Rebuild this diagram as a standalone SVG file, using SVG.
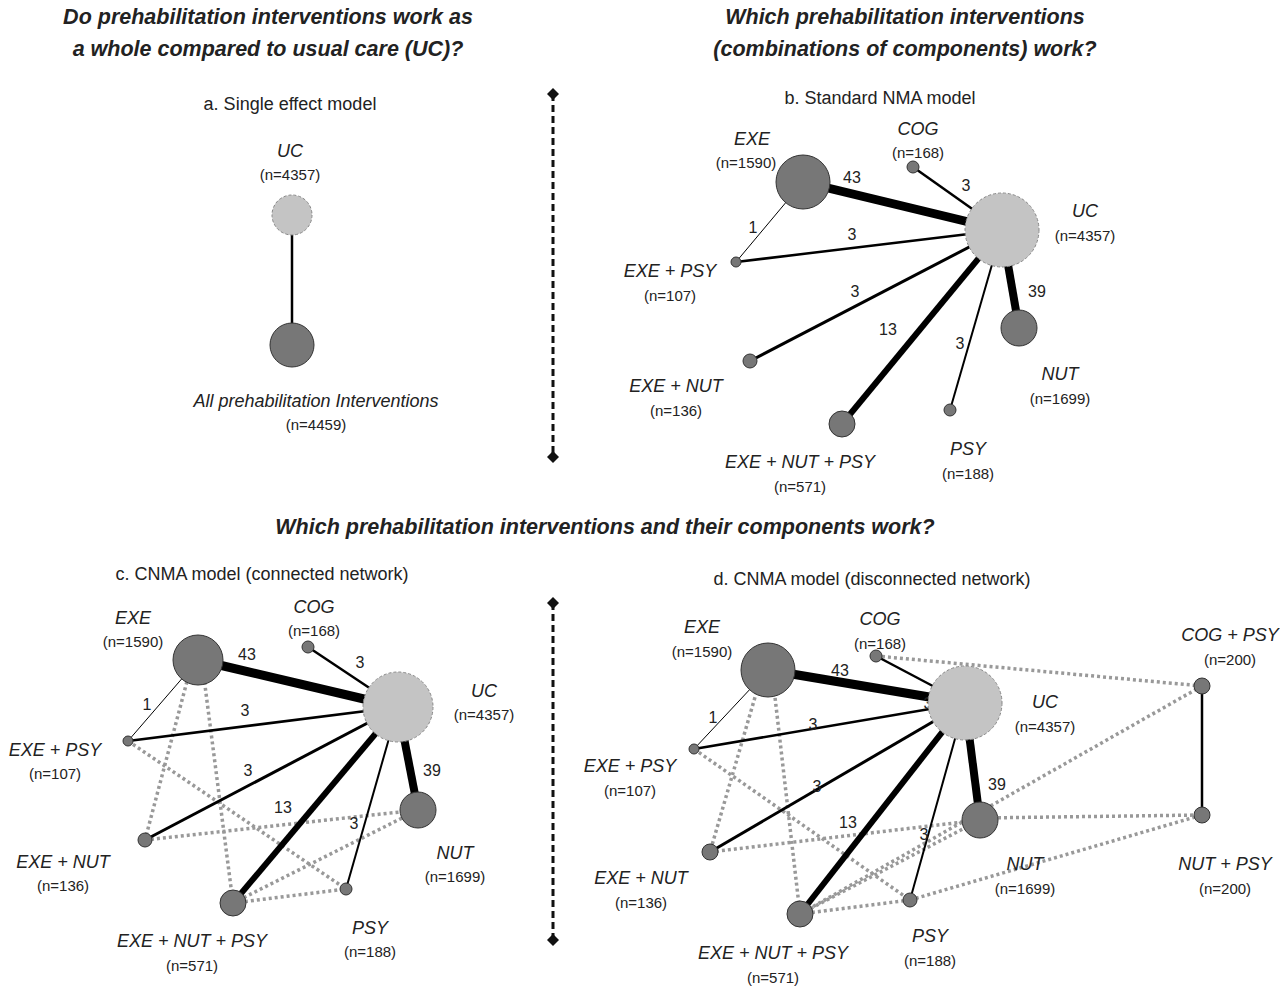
<svg xmlns="http://www.w3.org/2000/svg" width="1280" height="996" viewBox="0 0 1280 996">
<style>
text{font-family:"Liberation Sans",Arial,sans-serif;fill:#222;text-anchor:middle}
.t{font-size:21.5px;font-weight:bold;font-style:italic}
.s{font-size:18px}
.n{font-size:18px;font-style:italic}
.c{font-size:15px}
.e{font-size:16px}
.d{fill:#777;stroke:#333;stroke-width:1}
.u{fill:#c4c4c4;stroke:#888;stroke-width:1;stroke-dasharray:3 2}
.l{stroke:#000;fill:none}
.o{stroke:#999;stroke-width:3.5;stroke-dasharray:3 3;fill:none}
.v{stroke:#111;stroke-width:3;stroke-dasharray:7 4}
</style>
<defs><marker id="dm" viewBox="0 0 10 10" refX="5" refY="5" markerWidth="4" markerHeight="4" orient="auto"><path d="M5 0L10 5L5 10L0 5Z" fill="#111"/></marker></defs>
<rect width="1280" height="996" fill="#fff"/>
<text class="t" x="268" y="24">Do prehabilitation interventions work as</text>
<text class="t" x="268" y="56">a whole compared to usual care (UC)?</text>
<text class="t" x="905" y="24">Which prehabilitation interventions</text>
<text class="t" x="905" y="56">(combinations of components) work?</text>
<text class="t" x="605" y="534">Which prehabilitation interventions and their components work?</text>
<text class="s" x="290" y="110">a. Single effect model</text>
<text class="s" x="880" y="104">b. Standard NMA model</text>
<text class="s" x="262" y="580">c. CNMA model (connected network)</text>
<text class="s" x="872" y="585">d. CNMA model (disconnected network)</text>
<g id="connectors">
<line class="v" x1="553" y1="94" x2="553" y2="457" marker-start="url(#dm)" marker-end="url(#dm)"/>
<line class="v" x1="553" y1="603" x2="553" y2="940" marker-start="url(#dm)" marker-end="url(#dm)"/>
<line class="l" x1="292" y1="215" x2="292" y2="345" stroke-width="2.5"/>
<line class="l" x1="803" y1="182" x2="1002" y2="230" stroke-width="9"/>
<line class="l" x1="913" y1="167" x2="1002" y2="230" stroke-width="2.5"/>
<line class="l" x1="803" y1="182" x2="736" y2="262" stroke-width="1"/>
<line class="l" x1="736" y1="262" x2="1002" y2="230" stroke-width="2.5"/>
<line class="l" x1="750" y1="361" x2="1002" y2="230" stroke-width="3"/>
<line class="l" x1="842" y1="424" x2="1002" y2="230" stroke-width="6"/>
<line class="l" x1="950" y1="410" x2="1002" y2="230" stroke-width="2"/>
<line class="l" x1="1019" y1="328" x2="1002" y2="230" stroke-width="8"/>
<line class="o" x1="190" y1="670" x2="145" y2="840"/>
<line class="o" x1="203" y1="670" x2="233" y2="903"/>
<line class="o" x1="128" y1="741" x2="346" y2="889"/>
<line class="o" x1="145" y1="840" x2="418" y2="810"/>
<line class="o" x1="233" y1="903" x2="418" y2="810"/>
<line class="o" x1="233" y1="903" x2="346" y2="889"/>
<line class="l" x1="198" y1="660" x2="398" y2="707" stroke-width="9"/>
<line class="l" x1="308" y1="647" x2="398" y2="707" stroke-width="2.5"/>
<line class="l" x1="198" y1="660" x2="128" y2="741" stroke-width="1"/>
<line class="l" x1="128" y1="741" x2="398" y2="707" stroke-width="2.5"/>
<line class="l" x1="145" y1="840" x2="398" y2="707" stroke-width="3"/>
<line class="l" x1="233" y1="903" x2="398" y2="707" stroke-width="6"/>
<line class="l" x1="346" y1="889" x2="398" y2="707" stroke-width="2"/>
<line class="l" x1="418" y1="810" x2="398" y2="707" stroke-width="8"/>
<line class="o" x1="760" y1="680" x2="710" y2="852"/>
<line class="o" x1="773" y1="680" x2="800" y2="914"/>
<line class="o" x1="694" y1="749" x2="910" y2="900"/>
<line class="o" x1="710" y1="852" x2="980" y2="820"/>
<line class="o" x1="800" y1="914" x2="980" y2="820"/>
<line class="o" x1="800" y1="914" x2="910" y2="900"/>
<line class="o" x1="876" y1="656" x2="1202" y2="686"/>
<line class="o" x1="1202" y1="686" x2="800" y2="914"/>
<line class="o" x1="980" y1="818" x2="1202" y2="815"/>
<line class="o" x1="910" y1="900" x2="1202" y2="815"/>
<line class="l" x1="1202" y1="686" x2="1202" y2="815" stroke-width="2.5"/>
<line class="l" x1="768" y1="670" x2="965" y2="703" stroke-width="9"/>
<line class="l" x1="876" y1="656" x2="965" y2="703" stroke-width="2.5"/>
<line class="l" x1="768" y1="670" x2="694" y2="749" stroke-width="1"/>
<line class="l" x1="694" y1="749" x2="965" y2="703" stroke-width="2.5"/>
<line class="l" x1="710" y1="852" x2="965" y2="703" stroke-width="3"/>
<line class="l" x1="800" y1="914" x2="965" y2="703" stroke-width="6"/>
<line class="l" x1="910" y1="900" x2="965" y2="703" stroke-width="2"/>
<line class="l" x1="980" y1="820" x2="965" y2="703" stroke-width="8"/>
<text class="e" x="852" y="183">43</text><text class="e" x="966" y="191">3</text><text class="e" x="753" y="233">1</text><text class="e" x="852" y="240">3</text><text class="e" x="855" y="297">3</text><text class="e" x="888" y="335">13</text><text class="e" x="1037" y="297">39</text><text class="e" x="960" y="349">3</text>
<text class="e" x="247" y="660">43</text><text class="e" x="360" y="668">3</text><text class="e" x="147" y="710">1</text><text class="e" x="245" y="716">3</text><text class="e" x="248" y="776">3</text><text class="e" x="283" y="813">13</text><text class="e" x="432" y="776">39</text><text class="e" x="354" y="829">3</text>
<text class="e" x="840" y="676">43</text><text class="e" x="928" y="709">3</text><text class="e" x="713" y="723">1</text><text class="e" x="813" y="730">3</text><text class="e" x="817" y="792">3</text><text class="e" x="848" y="828">13</text><text class="e" x="997" y="790">39</text><text class="e" x="924" y="840">3</text>
</g>
<g id="a-uc"><circle class="u" cx="292" cy="215" r="20"/><text class="n" x="290" y="157">UC</text><text class="c" x="290" y="180">(n=4357)</text></g>
<g id="a-all"><circle class="d" cx="292" cy="345" r="22"/><text class="n" x="316" y="407">All prehabilitation Interventions</text><text class="c" x="316" y="430">(n=4459)</text></g>
<g id="b-exe"><circle class="d" cx="803" cy="182" r="27"/><text class="n" x="752" y="145">EXE</text><text class="c" x="746" y="168">(n=1590)</text></g>
<g id="b-cog"><circle class="d" cx="913" cy="167" r="6"/><text class="n" x="918" y="135">COG</text><text class="c" x="918" y="158">(n=168)</text></g>
<g id="b-uc"><circle class="u" cx="1002" cy="230" r="37"/><text class="n" x="1085" y="217">UC</text><text class="c" x="1085" y="241">(n=4357)</text></g>
<g id="b-exepsy"><circle class="d" cx="736" cy="262" r="5"/><text class="n" x="670" y="277">EXE + PSY</text><text class="c" x="670" y="301">(n=107)</text></g>
<g id="b-exenut"><circle class="d" cx="750" cy="361" r="7"/><text class="n" x="676" y="392">EXE + NUT</text><text class="c" x="676" y="416">(n=136)</text></g>
<g id="b-enp"><circle class="d" cx="842" cy="424" r="13"/><text class="n" x="800" y="468">EXE + NUT + PSY</text><text class="c" x="800" y="492">(n=571)</text></g>
<g id="b-psy"><circle class="d" cx="950" cy="410" r="6"/><text class="n" x="968" y="455">PSY</text><text class="c" x="968" y="479">(n=188)</text></g>
<g id="b-nut"><circle class="d" cx="1019" cy="328" r="18"/><text class="n" x="1060" y="380">NUT</text><text class="c" x="1060" y="404">(n=1699)</text></g>
<g id="c-exe"><circle class="d" cx="198" cy="660" r="25"/><text class="n" x="133" y="624">EXE</text><text class="c" x="133" y="647">(n=1590)</text></g>
<g id="c-cog"><circle class="d" cx="308" cy="647" r="6"/><text class="n" x="314" y="613">COG</text><text class="c" x="314" y="636">(n=168)</text></g>
<g id="c-uc"><circle class="u" cx="398" cy="707" r="35"/><text class="n" x="484" y="697">UC</text><text class="c" x="484" y="720">(n=4357)</text></g>
<g id="c-exepsy"><circle class="d" cx="128" cy="741" r="5"/><text class="n" x="55" y="756">EXE + PSY</text><text class="c" x="55" y="779">(n=107)</text></g>
<g id="c-exenut"><circle class="d" cx="145" cy="840" r="7"/><text class="n" x="63" y="868">EXE + NUT</text><text class="c" x="63" y="891">(n=136)</text></g>
<g id="c-enp"><circle class="d" cx="233" cy="903" r="13"/><text class="n" x="192" y="947">EXE + NUT + PSY</text><text class="c" x="192" y="971">(n=571)</text></g>
<g id="c-psy"><circle class="d" cx="346" cy="889" r="6"/><text class="n" x="370" y="934">PSY</text><text class="c" x="370" y="957">(n=188)</text></g>
<g id="c-nut"><circle class="d" cx="418" cy="810" r="18"/><text class="n" x="455" y="859">NUT</text><text class="c" x="455" y="882">(n=1699)</text></g>
<g id="d-exe"><circle class="d" cx="768" cy="670" r="27"/><text class="n" x="702" y="633">EXE</text><text class="c" x="702" y="657">(n=1590)</text></g>
<g id="d-cog"><circle class="d" cx="876" cy="656" r="6"/><text class="n" x="880" y="625">COG</text><text class="c" x="880" y="649">(n=168)</text></g>
<g id="d-uc"><circle class="u" cx="965" cy="703" r="37"/><text class="n" x="1045" y="708">UC</text><text class="c" x="1045" y="732">(n=4357)</text></g>
<g id="d-cogpsy"><circle class="d" cx="1202" cy="686" r="8"/><text class="n" x="1230" y="641">COG + PSY</text><text class="c" x="1230" y="665">(n=200)</text></g>
<g id="d-nutpsy"><circle class="d" cx="1202" cy="815" r="8"/><text class="n" x="1225" y="870">NUT + PSY</text><text class="c" x="1225" y="894">(n=200)</text></g>
<g id="d-exepsy"><circle class="d" cx="694" cy="749" r="5"/><text class="n" x="630" y="772">EXE + PSY</text><text class="c" x="630" y="796">(n=107)</text></g>
<g id="d-exenut"><circle class="d" cx="710" cy="852" r="8"/><text class="n" x="641" y="884">EXE + NUT</text><text class="c" x="641" y="908">(n=136)</text></g>
<g id="d-enp"><circle class="d" cx="800" cy="914" r="13"/><text class="n" x="773" y="959">EXE + NUT + PSY</text><text class="c" x="773" y="983">(n=571)</text></g>
<g id="d-psy"><circle class="d" cx="910" cy="900" r="7"/><text class="n" x="930" y="942">PSY</text><text class="c" x="930" y="966">(n=188)</text></g>
<g id="d-nut"><circle class="d" cx="980" cy="820" r="18"/><text class="n" x="1025" y="870">NUT</text><text class="c" x="1025" y="894">(n=1699)</text></g>
</svg>
